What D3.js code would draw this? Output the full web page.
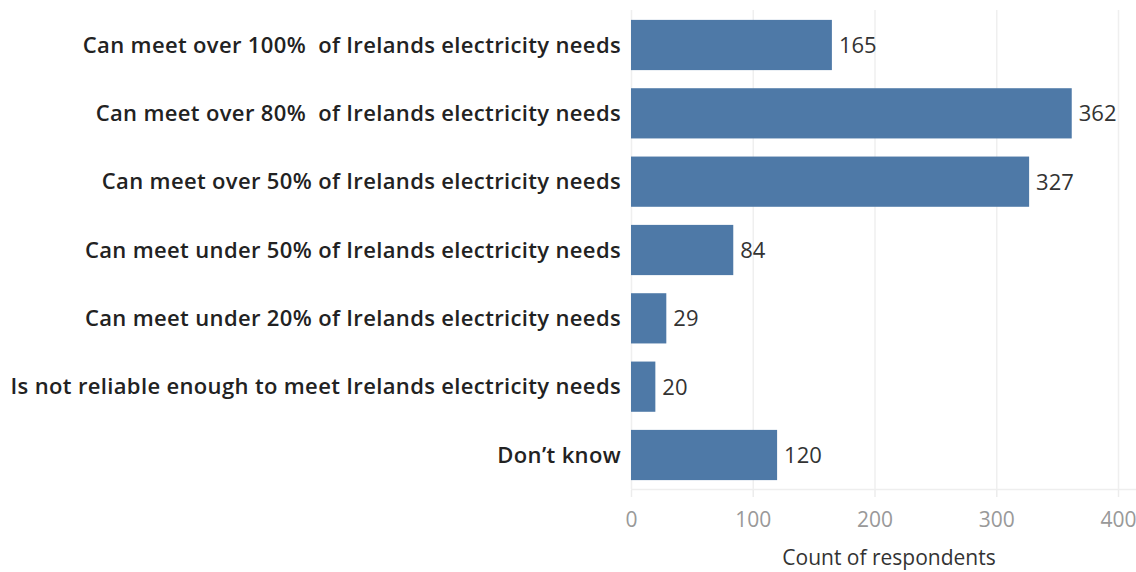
<!DOCTYPE html>
<html>
<head>
<meta charset="utf-8">
<script src="https://cdnjs.cloudflare.com/ajax/libs/d3/7.8.5/d3.min.js"></script>
<style>
  body { margin: 0; background: #fff; }
  text { font-family: "Open Sans", "Noto Sans", sans-serif; white-space: pre; }
</style>
</head>
<body>
<div id="chart"></div>
<script>
// data
var categories = [
    "Can meet over 100%  of Irelands electricity needs",
    "Can meet over 80%  of Irelands electricity needs",
    "Can meet over 50% of Irelands electricity needs",
    "Can meet under 50% of Irelands electricity needs",
    "Can meet under 20% of Irelands electricity needs",
    "Is not reliable enough to meet Irelands electricity needs",
    "Don\u2019t know"
];
var counts = [165, 362, 327, 84, 29, 20, 120];
var xTicks = [0, 100, 200, 300, 400];
var xTitle = "Count of respondents";

var width = 1136, height = 572;
var svg = d3.select("#chart").append("svg")
    .attr("width", width)
    .attr("height", height);

var x = d3.scaleLinear().domain([0, 400]).range([631, 1118]);
var y = d3.scaleBand().domain(categories).range([11, 489]).paddingInner(0.265).paddingOuter(0.13);

// gridlines
svg.append("g").selectAll("line")
    .data(xTicks)
    .enter().append("line")
    .attr("x1", d => x(d) + 0.5).attr("x2", d => x(d) + 0.5)
    .attr("y1", 10).attr("y2", 489)
    .attr("stroke", "#efefef")
    .attr("stroke-width", 1.5);

// baseline
svg.append("line")
    .attr("x1", 631).attr("x2", 1136)
    .attr("y1", 489.5).attr("y2", 489.5)
    .attr("stroke", "#eeeeee")
    .attr("stroke-width", 1.5);

// bars
svg.append("g").selectAll("rect")
    .data(counts)
    .enter().append("rect")
    .attr("x", x(0))
    .attr("y", (d, i) => y(categories[i]))
    .attr("width", d => x(d) - x(0))
    .attr("height", y.bandwidth())
    .attr("fill", "#4e79a7");

// value labels
svg.append("g").selectAll("text")
    .data(counts)
    .enter().append("text")
    .attr("x", d => x(d) + 7)
    .attr("y", (d, i) => y(categories[i]) + y.bandwidth() / 2)
    .attr("dy", "0.36em")
    .attr("font-size", 22)
    .attr("fill", "#333")
    .text(d => d);

// category labels
svg.append("g").selectAll("text")
    .data(categories)
    .enter().append("text")
    .attr("x", 621)
    .attr("y", d => y(d) + y.bandwidth() / 2)
    .attr("dy", "0.35em")
    .attr("text-anchor", "end")
    .attr("font-size", 22)
    .attr("font-weight", 600)
    .attr("letter-spacing", 0.35)
    .attr("fill", "#222")
    .text(d => d);

// x axis
var xAxis = d3.axisBottom(x).tickValues(xTicks).tickSize(7);
var ax = svg.append("g")
    .attr("transform", "translate(0,490)")
    .call(xAxis);
ax.select(".domain").remove();
ax.selectAll(".tick line").attr("stroke", "#ececec").attr("stroke-width", 1.5);
ax.selectAll(".tick text")
    .attr("y", 22)
    .attr("font-size", 21)
    .attr("fill", "#999")
    .style("font-family", "'Open Sans', sans-serif");

svg.append("text")
    .attr("x", 889)
    .attr("y", 565)
    .attr("text-anchor", "middle")
    .attr("font-size", 21)
    .attr("fill", "#333")
    .text(xTitle);
</script>
</body>
</html>
